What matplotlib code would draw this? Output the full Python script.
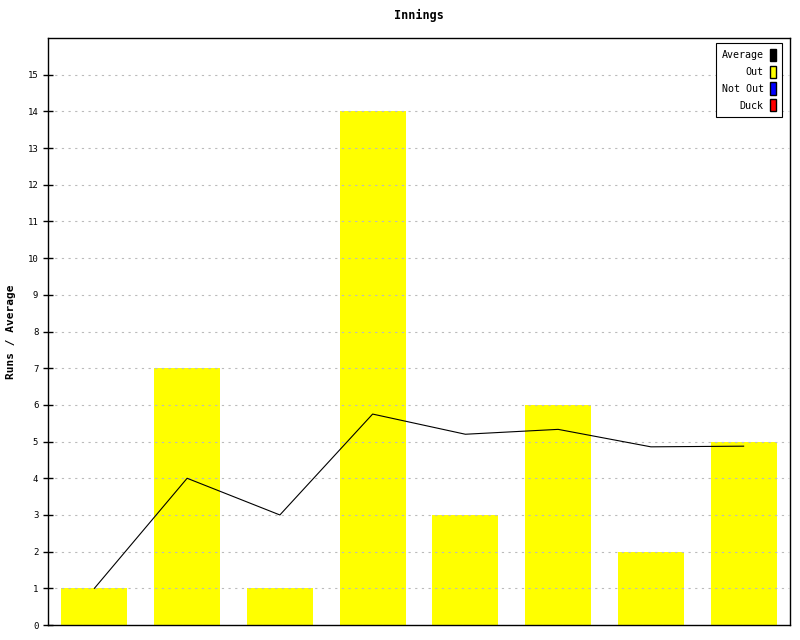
import matplotlib
matplotlib.use('Agg')
import matplotlib.pyplot as plt
from matplotlib.patches import Patch
import numpy as np

innings = [1, 2, 3, 4, 5, 6, 7, 8]
runs = [1, 7, 1, 14, 3, 6, 2, 5]
average = [1.0, 4.0, 3.0, 5.75, 5.2, 5.333, 4.857, 4.875]
y_ticks = list(range(0, 16))

plt.rcParams['font.family'] = 'DejaVu Sans Mono'

fig = plt.figure(figsize=(8, 6.4), dpi=100)
ax = fig.add_axes([0.06, 0.0234, 0.9275, 0.9172])

x = np.arange(len(innings))
ax.bar(x, runs, width=0.71, color='#ffff00', zorder=1)
ax.plot(x, average, color='black', linewidth=0.8, zorder=3)

ax.set_xlim(-0.5, len(innings) - 0.5)
ax.set_ylim(0, 16)
ax.set_yticks(y_ticks)
ax.set_yticklabels([str(t) for t in y_ticks], fontsize=6.5)
ax.set_xticks([])
ax.tick_params(axis='y', direction='inout', length=7, width=1)
ax.yaxis.grid(True, linestyle=(0, (2, 4)), color='#bbbbbb', linewidth=0.8, zorder=2)
ax.set_axisbelow(False)
for s in ax.spines.values():
    s.set_linewidth(1)

ax.set_title('Innings', fontsize=8.5, fontweight='bold', pad=14)
ax.set_ylabel('Runs / Average', fontsize=8, fontweight='bold', labelpad=8)

handles = [Patch(facecolor='black', edgecolor='black'),
           Patch(facecolor='#ffff00', edgecolor='black'),
           Patch(facecolor='#0000ff', edgecolor='black'),
           Patch(facecolor='#ff0000', edgecolor='black')]
labels = ['Average', 'Out', 'Not Out', 'Duck']
leg = ax.legend(handles, labels, loc='upper right', markerfirst=False,
                fontsize=7.2, handlelength=0.6, handleheight=1.5, handletextpad=0.6,
                labelspacing=0.45, borderpad=0.6, borderaxespad=0, fancybox=False,
                framealpha=1, edgecolor='black', bbox_to_anchor=(0.989, 0.9915))
leg.get_frame().set_linewidth(0.8)
for t in leg.get_texts():
    t.set_ha('right')
leg._legend_box.align = 'right'

fig.savefig('out.png', dpi=100)
